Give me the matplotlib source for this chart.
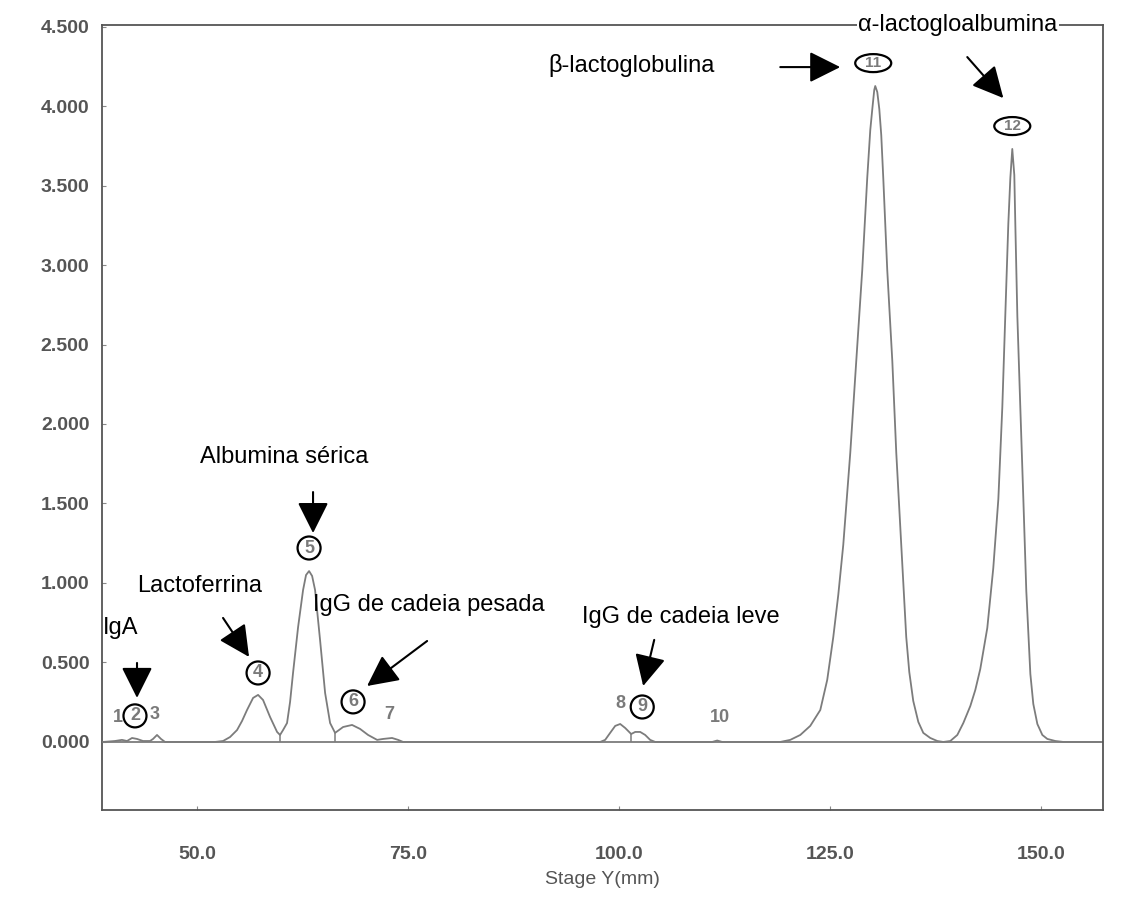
import matplotlib
matplotlib.use("Agg")
import matplotlib.pyplot as plt
from matplotlib.patches import Ellipse

plt.rcParams['font.family'] = ['Liberation Sans', 'DejaVu Sans']

# ---- densitometer trace ----
trace_x = [38.86, 40.28, 41.11, 41.71, 42.30, 42.89, 43.60, 44.43, 44.79, 45.26,
           45.73, 46.21, 50.36, 52.13, 53.08, 53.91, 54.74, 55.33, 55.92, 56.64,
           57.23, 57.82, 58.65, 59.48, 59.83, 60.19, 60.66, 61.02, 61.37, 61.97,
           62.56, 62.91, 63.27, 63.63, 63.98, 64.57, 65.17, 65.76, 66.35, 67.30,
           68.36, 69.31, 70.26, 71.33, 72.04, 73.10, 73.82, 74.41, 97.75, 98.34,
           98.93, 99.53, 100.12, 100.71, 101.42, 101.90, 102.49, 103.08, 103.67, 104.27,
           111.02, 111.61, 112.20, 119.08, 120.26, 121.45, 122.63, 123.82, 124.64, 125.36,
           125.95, 126.54, 127.37, 128.08, 128.79, 129.38, 129.74, 129.98, 130.21, 130.33,
           130.57, 130.81, 131.04, 131.28, 131.75, 132.35, 132.82, 133.41, 134.00, 134.36,
           134.83, 135.43, 136.02, 136.85, 137.68, 138.39, 139.22, 140.05, 140.76, 141.59,
           142.18, 142.77, 143.60, 144.31, 144.91, 145.38, 145.73, 146.09, 146.33, 146.56,
           146.80, 146.92, 147.16, 147.51, 147.87, 148.22, 148.70, 149.05, 149.53, 150.12,
           150.71, 151.66, 152.61, 156.99]
trace_y = [0.000, 0.006, 0.013, 0.006, 0.025, 0.019, 0.006, 0.006, 0.019, 0.044,
           0.019, 0.000, 0.000, 0.000, 0.006, 0.031, 0.075, 0.132, 0.201, 0.277,
           0.296, 0.264, 0.157, 0.063, 0.044, 0.075, 0.119, 0.252, 0.434, 0.723,
           0.956, 1.050, 1.075, 1.044, 0.956, 0.642, 0.308, 0.119, 0.057, 0.094,
           0.107, 0.082, 0.044, 0.013, 0.019, 0.025, 0.013, 0.000, 0.000, 0.013,
           0.057, 0.101, 0.113, 0.088, 0.050, 0.063, 0.063, 0.044, 0.013, 0.000,
           0.000, 0.009, 0.000, 0.000, 0.013, 0.044, 0.101, 0.201, 0.390, 0.660,
           0.925, 1.239, 1.818, 2.396, 2.969, 3.547, 3.849, 3.981, 4.101, 4.126,
           4.088, 3.981, 3.818, 3.547, 2.969, 2.396, 1.818, 1.239, 0.660, 0.440,
           0.258, 0.126, 0.057, 0.025, 0.006, 0.000, 0.006, 0.044, 0.119, 0.226,
           0.327, 0.459, 0.717, 1.094, 1.528, 2.107, 2.679, 3.258, 3.547, 3.730,
           3.566, 3.258, 2.679, 2.107, 1.528, 0.950, 0.428, 0.239, 0.113, 0.044,
           0.019, 0.006, 0.000, 0.000]

# partition drop lines (position, height)
drop_x = [59.83, 66.35, 101.42]
drop_y = [0.044, 0.057, 0.050]

y_ticks = [0.0, 0.5, 1.0, 1.5, 2.0, 2.5, 3.0, 3.5, 4.0, 4.5]
y_ticklabels = ['0.000', '0.500', '1.000', '1.500', '2.000', '2.500',
                '3.000', '3.500', '4.000', '4.500']
x_ticks = [50, 75, 100, 125, 150]
x_ticklabels = ['50.0', '75.0', '100.0', '125.0', '150.0']
x_label = 'Stage Y(mm)'

# plain peak numbers
num_labels = ['1', '3', '7', '8', '10']
num_x = [40.64, 45.02, 72.75, 100.12, 111.97]
num_y = [0.151, 0.170, 0.170, 0.245, 0.151]

# circled peak numbers
circ_labels = ['2', '4', '5', '6', '9', '11', '12']
circ_x = [42.65, 57.23, 63.27, 68.48, 102.73, 130.09, 146.56]
circ_y = [0.164, 0.434, 1.220, 0.252, 0.220, 4.270, 3.874]

# protein names and their arrows
names = ['IgA', 'Lactoferrina', 'Albumina sérica', 'IgG de cadeia pesada',
         'IgG de cadeia leve', 'β-lactoglobulina', 'α-lactogloalbumina']
name_x = [38.86, 42.89, 60.31, 63.74, 95.62, 91.59, 128.32]
name_y = [0.717, 0.981, 1.792, 0.862, 0.786, 4.258, 4.509]
name_ha = ['left', 'left', 'center', 'left', 'left', 'left', 'left']
arrow_from_x = [42.89, 53.08, 63.74, 77.25, 104.15, 119.08, 141.23]
arrow_from_y = [0.497, 0.780, 1.572, 0.635, 0.642, 4.245, 4.308]
arrow_to_x = [42.89, 56.16, 63.74, 70.14, 102.84, 126.18, 145.50]
arrow_to_y = [0.277, 0.535, 1.314, 0.352, 0.352, 4.245, 4.050]

fig = plt.figure(figsize=(11.28, 9.01), dpi=100)
ax = fig.add_axes([0.0904, 0.1010, 0.8874, 0.8713])
ax.set_xlim(38.74, 157.3)
ax.set_ylim(-0.428, 4.51)

grey = '#7c7c7c'
ax.axhline(0, color=grey, lw=1.3, zorder=2)
ax.plot(trace_x, trace_y, color=grey, lw=1.3, zorder=3)
ax.vlines(drop_x, 0, drop_y, color=grey, lw=1.1, zorder=3)

for s in ax.spines.values():
    s.set_color('#555555')
    s.set_linewidth(1.3)

ax.set_yticks(y_ticks)
ax.set_yticklabels(y_ticklabels)
ax.set_xticks(x_ticks)
ax.set_xticklabels(x_ticklabels)
ax.tick_params(axis='y', direction='in', length=3, color='#888888', pad=9,
               labelsize=14, labelcolor='#555555')
ax.tick_params(axis='x', direction='in', length=3, color='#888888', pad=26,
               labelsize=14, labelcolor='#555555')
for lab in ax.get_xticklabels() + ax.get_yticklabels():
    lab.set_fontweight('bold')
ax.set_xlabel(x_label, fontsize=14, color='#555555', labelpad=6)

for t, x, y in zip(num_labels, num_x, num_y):
    ax.text(x, y, t, fontsize=13, color='#7a7a7a', ha='center', va='center',
            fontweight='bold')

for t, x, y in zip(circ_labels, circ_x, circ_y):
    if len(t) == 1:
        w, h, fs = 23 / 8.44, 23 / 159.0, 13
    else:
        w, h, fs = 36 / 8.44, 18 / 159.0, 11
    ax.add_patch(Ellipse((x, y), w, h, fill=False, ec='black', lw=1.6, zorder=4))
    ax.text(x, y, t, fontsize=fs, color='#7a7a7a', ha='center', va='center',
            fontweight='bold', zorder=4)

for i, t in enumerate(names):
    kw = {}
    if t.startswith('α'):
        kw['bbox'] = dict(fc='white', ec='none', pad=1)
    ax.text(name_x[i], name_y[i], t, fontsize=17, color='black',
            ha=name_ha[i], va='center', zorder=5, clip_on=False, **kw)
    ax.annotate('', xy=(arrow_to_x[i], arrow_to_y[i]),
                xytext=(arrow_from_x[i], arrow_from_y[i]),
                arrowprops=dict(arrowstyle='-|>', mutation_scale=48, lw=1.5,
                                color='black', shrinkA=0, shrinkB=0),
                zorder=5)

fig.savefig('out.png', dpi=100, facecolor='white')
